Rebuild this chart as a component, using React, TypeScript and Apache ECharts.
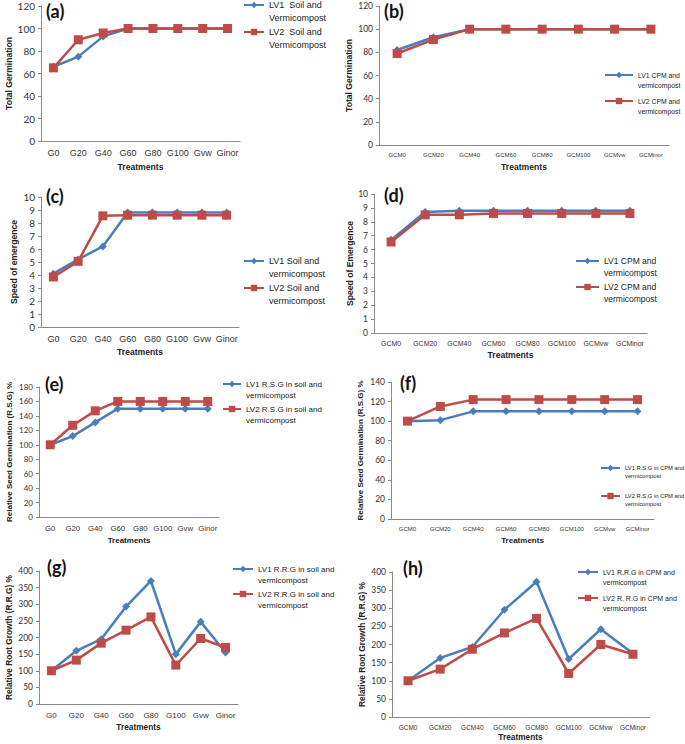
import React, { useEffect, useRef } from 'react';
import * as echarts from 'echarts';

const CAT_SOIL = ['G0', 'G20', 'G40', 'G60', 'G80', 'G100', 'Gvw', 'Ginor'];
const CAT_CPM = ['GCM0', 'GCM20', 'GCM40', 'GCM60', 'GCM80', 'GCM100', 'GCMvw', 'GCMinor'];

const A_LV1 = [66, 75, 93, 100, 100, 100, 100, 100];
const A_LV2 = [65, 90, 96, 100, 100, 100, 100, 100];
const B_LV1 = [82, 93, 100, 100, 100, 100, 100, 100];
const B_LV2 = [79, 91, 100, 100, 100, 100, 100, 100];
const C_LV1 = [4.1, 5.2, 6.2, 8.8, 8.8, 8.8, 8.8, 8.8];
const C_LV2 = [3.85, 5.05, 8.55, 8.6, 8.6, 8.6, 8.6, 8.6];
const D_LV1 = [6.7, 8.7, 8.8, 8.8, 8.8, 8.8, 8.8, 8.8];
const D_LV2 = [6.55, 8.5, 8.5, 8.6, 8.6, 8.6, 8.6, 8.6];
const E_LV1 = [100, 112, 131, 150, 150, 150, 150, 150];
const E_LV2 = [100, 127, 147, 160, 160, 160, 160, 160];
const F_LV1 = [100, 101, 110, 110, 110, 110, 110, 110];
const F_LV2 = [100, 115, 122, 122, 122, 122, 122, 122];
const G_LV1 = [100, 160, 195, 293, 370, 150, 247, 155];
const G_LV2 = [100, 132, 183, 222, 262, 117, 197, 170];
const H_LV1 = [100, 163, 193, 296, 373, 160, 242, 175];
const H_LV2 = [100, 132, 187, 232, 272, 120, 200, 173];

const BLUE = '#4A7EBB';
const RED = '#BE4B48';
const NUM = 'Lato, "Liberation Sans", sans-serif';
const TXT = '"Liberation Sans", Arial, sans-serif';

type Panel = {
  tag: string; tagPos: [number, number];
  cats: string[]; lv1: number[]; lv2: number[];
  n1: string; n2: string;
  yName: string; max: number; step: number;
  grid: { left: number; top: number; width: number; height: number };
  yGap: number; xGap: number;
  yFs: number; xFs: number; lFs: number; nFs: number;
  leg: { x: number; y1: number; y2: number; w: number };
};

const panels: Panel[] = [
  { tag: '(a)', tagPos: [46, 2], cats: CAT_SOIL, lv1: A_LV1, lv2: A_LV2,
    n1: 'LV1  Soil and\nVermicompost', n2: 'LV2  Soil and\nVermicompost',
    yName: 'Total Germination', max: 120, step: 20,
    grid: { left: 41, top: 6, width: 199, height: 135 }, yGap: 25, xGap: 21,
    yFs: 10, xFs: 9, lFs: 9, nFs: 8.6, leg: { x: 243, y1: 5, y2: 32, w: 20 } },
  { tag: '(b)', tagPos: [384, 2], cats: CAT_CPM, lv1: B_LV1, lv2: B_LV2,
    n1: 'LV1 CPM and\nvermicompost', n2: 'LV2 CPM and\nvermicompost',
    yName: 'Total Germination', max: 120, step: 20,
    grid: { left: 379, top: 6, width: 290, height: 139 }, yGap: 26, xGap: 17,
    yFs: 8.5, xFs: 6, lFs: 6.8, nFs: 8.6, leg: { x: 604, y1: 75, y2: 101, w: 28 } },
  { tag: '(c)', tagPos: [46, 187], cats: CAT_SOIL, lv1: C_LV1, lv2: C_LV2,
    n1: 'LV1 Soil and\nvermicompost', n2: 'LV2 Soil and\nvermicompost',
    yName: 'Speed of emergence', max: 10, step: 1,
    grid: { left: 41, top: 197, width: 198, height: 130 }, yGap: 23, xGap: 20,
    yFs: 10, xFs: 9, lFs: 9, nFs: 8.6, leg: { x: 243, y1: 261, y2: 288, w: 20 } },
  { tag: '(d)', tagPos: [384, 186], cats: CAT_CPM, lv1: D_LV1, lv2: D_LV2,
    n1: 'LV1 CPM and\nvermicompost', n2: 'LV2 CPM and\nvermicompost',
    yName: 'Speed of Emergence', max: 10, step: 1,
    grid: { left: 374, top: 194, width: 273, height: 139 }, yGap: 18, xGap: 17,
    yFs: 8.5, xFs: 7, lFs: 8.5, nFs: 8.6, leg: { x: 575, y1: 261, y2: 287, w: 23 } },
  { tag: '(e)', tagPos: [45, 375], cats: CAT_SOIL, lv1: E_LV1, lv2: E_LV2,
    n1: 'LV1 R.S.G in soil and\nvermicompost', n2: 'LV2 R.S.G in soil and\nvermicompost',
    yName: 'Relative Seed Germination (R.S.G) %', max: 180, step: 20,
    grid: { left: 39, top: 387, width: 180, height: 130 }, yGap: 26, xGap: 19,
    yFs: 8, xFs: 7.8, lFs: 8, nFs: 8, leg: { x: 222, y1: 384, y2: 409, w: 18 } },
  { tag: '(f)', tagPos: [400, 374], cats: CAT_CPM, lv1: F_LV1, lv2: F_LV2,
    n1: 'LV1 R.S.G in CPM and\nvermicompost', n2: 'LV2 R.S.G in CPM and\nvermicompost',
    yName: 'Relative Seed Germination (R.S.G) %', max: 140, step: 20,
    grid: { left: 391, top: 382, width: 263, height: 137 }, yGap: 27, xGap: 17,
    yFs: 8.5, xFs: 6, lFs: 5.8, nFs: 8, leg: { x: 600, y1: 468, y2: 496, w: 19 } },
  { tag: '(g)', tagPos: [47, 558], cats: CAT_SOIL, lv1: G_LV1, lv2: G_LV2,
    n1: 'LV1 R.R.G in soil and\nvermicompost', n2: 'LV2 R.R.G in soil and\nvermicompost',
    yName: 'Relative Root Growth (R.R.G) %', max: 400, step: 50,
    grid: { left: 39, top: 571, width: 199, height: 133 }, yGap: 26, xGap: 19,
    yFs: 8.5, xFs: 8, lFs: 8, nFs: 8.3, leg: { x: 232, y1: 569, y2: 594, w: 20 } },
  { tag: '(h)', tagPos: [403, 559], cats: CAT_CPM, lv1: H_LV1, lv2: H_LV2,
    n1: 'LV1 R.R.G in CPM and\nvermicompost', n2: 'LV2 R. R.G in CPM and\nvermicompost',
    yName: 'Relative Root Growth (R.R.G) %', max: 400, step: 50,
    grid: { left: 392, top: 572, width: 257, height: 145 }, yGap: 26, xGap: 16,
    yFs: 8.5, xFs: 6.5, lFs: 7, nFs: 8.3, leg: { x: 577, y1: 572, y2: 598, w: 20 } },
];

function buildOption() {
  const grid: any[] = [];
  const xAxis: any[] = [];
  const yAxis: any[] = [];
  const series: any[] = [];
  const legend: any[] = [];
  const title: any[] = [];
  panels.forEach((p, i) => {
    grid.push({ ...p.grid });
    xAxis.push({
      type: 'category', gridIndex: i, data: p.cats, boundaryGap: true,
      name: 'Treatments', nameLocation: 'middle', nameGap: p.xGap,
      nameTextStyle: { fontFamily: TXT, fontWeight: 'bold', fontSize: p.nFs, color: '#222' },
      axisLine: { lineStyle: { color: '#8a8a8a', width: 1 } },
      axisTick: { show: false },
      axisLabel: { fontFamily: TXT, fontSize: p.xFs, color: '#333', margin: 7, interval: 0 },
      splitLine: { show: false },
    });
    yAxis.push({
      type: 'value', gridIndex: i, min: 0, max: p.max, interval: p.step,
      name: p.yName, nameLocation: 'middle', nameGap: p.yGap, nameRotate: 90,
      nameTextStyle: { fontFamily: TXT, fontWeight: 'bold', fontSize: p.nFs, color: '#222' },
      axisLine: { show: true, lineStyle: { color: '#8a8a8a', width: 1 } },
      axisTick: { show: true, length: 3, lineStyle: { color: '#8a8a8a' } },
      axisLabel: { fontFamily: NUM, fontSize: p.yFs, color: '#333', margin: 6 },
      splitLine: { show: false },
    });
    series.push({
      type: 'line', name: p.n1, xAxisIndex: i, yAxisIndex: i, data: p.lv1,
      symbol: 'diamond', symbolSize: 8,
      lineStyle: { color: BLUE, width: 2.5 }, itemStyle: { color: BLUE },
      z: 3,
    });
    series.push({
      type: 'line', name: p.n2, xAxisIndex: i, yAxisIndex: i, data: p.lv2,
      symbol: 'rect', symbolSize: 9,
      lineStyle: { color: RED, width: 2.5 }, itemStyle: { color: RED },
      z: 4,
    });
    const lh = Math.round(p.lFs * 1.4);
    [[p.n1, p.leg.y1], [p.n2, p.leg.y2]].forEach(([n, y]) => {
      legend.push({
        data: [n], left: p.leg.x, top: (y as number) - 1.5 * lh, padding: 0,
        orient: 'vertical', itemWidth: p.leg.w, itemHeight: 8, itemGap: 0,
        formatter: (name: string) => ' \n' + name,
        textStyle: { fontFamily: TXT, fontSize: p.lFs, color: '#222', lineHeight: lh },
        selectedMode: false,
      });
    });
    title.push({
      text: p.tag, left: p.tagPos[0], top: p.tagPos[1], padding: 0,
      textStyle: { fontFamily: NUM, fontWeight: 'bold', fontSize: 18, color: '#111' },
    });
  });
  return { animation: false, backgroundColor: '#fff', grid, xAxis, yAxis, series, legend, title };
}

export default function App() {
  const ref = useRef<HTMLDivElement>(null);
  useEffect(() => {
    if (!ref.current) return;
    const chart = echarts.init(ref.current, undefined, { renderer: 'svg' });
    chart.setOption(buildOption() as any);
    return () => chart.dispose();
  }, []);
  return (
    <div
      ref={ref}
      style={{ position: 'absolute', left: 0, top: 0, width: 685, height: 744, background: '#fff' }}
    />
  );
}
